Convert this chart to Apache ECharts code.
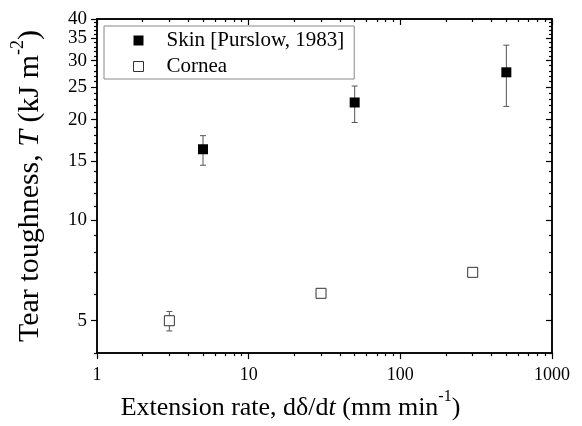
<!DOCTYPE html>
<html>
<head>
<meta charset="utf-8">
<script src="https://cdn.jsdelivr.net/npm/echarts@6/dist/echarts.min.js"></script>
<style>
html,body{margin:0;padding:0;background:#fff;}
#chart{width:582px;height:426px;}
</style>
</head>
<body>
<div id="chart"></div>
<script>
// ---- data ----
const skinRate = [5, 50, 500];
const skinToughness = [16.3, 22.5, 27.7];
const skinLow = [14.6, 19.6, 21.9];
const skinHigh = [17.9, 25.2, 33.4];

const corneaRate = [3, 30, 300];
const corneaToughness = [5.0, 6.04, 6.98];
const corneaLow = [4.66, null, null];
const corneaHigh = [5.33, null, null];

const xMajorTicks = [1, 10, 100, 1000];
const xMinorTicks = [2,3,4,5,6,7,8,9,20,30,40,50,60,70,80,90,200,300,400,500,600,700,800,900];
const yMajorTicks = [5, 10, 15, 20, 25, 30, 35, 40];
const yMinorTicks = [4,6,7,8,9,11,12,13,14,16,17,18,19,21,22,23,24,26,27,28,29,31,32,33,34,36,37,38,39];

const seriesNames = ['Skin [Purslow, 1983]', 'Cornea'];

// ---- build ----
const FONT = 'Liberation Serif';
const skinData = skinRate.map((x, i) => [x, skinToughness[i]]);
const corneaData = corneaRate.map((x, i) => [x, corneaToughness[i]]);
const errData = [];
skinRate.forEach((x, i) => { if (skinLow[i] != null) errData.push([x, skinLow[i], skinHigh[i]]); });
corneaRate.forEach((x, i) => { if (corneaLow[i] != null) errData.push([x, corneaLow[i], corneaHigh[i]]); });

function fmt(v) { return String(Math.round(v)); }

function xAx(pos, ticks, len, inside, labels) {
  return {
    type: 'log', logBase: 10, min: 1, max: 1000, position: pos,
    axisLine: { show: true, lineStyle: { color: '#000', width: 1.5 } },
    axisTick: { show: true, inside: inside, length: len, customValues: ticks, lineStyle: { color: '#000', width: 1.2 } },
    axisLabel: labels ? { show: true, customValues: ticks, formatter: fmt, fontFamily: FONT, fontSize: 18, color: '#000', margin: 13 } : { show: false },
    splitLine: { show: false }
  };
}
function yAx(pos, ticks, len, inside, labels) {
  return {
    type: 'log', logBase: 10, min: 4, max: 40, position: pos,
    axisLine: { show: true, lineStyle: { color: '#000', width: 1.5 } },
    axisTick: { show: true, inside: inside, length: len, customValues: ticks, lineStyle: { color: '#000', width: 1.2 } },
    axisLabel: labels ? { show: true, customValues: ticks, formatter: fmt, fontFamily: FONT, fontSize: 19, color: '#000', margin: 10 } : { show: false },
    splitLine: { show: false }
  };
}

function titleStyle(size, pad) {
  const lh = size + 6;
  return {
    fontFamily: FONT, color: '#000', padding: pad,
    rich: {
      a: { fontFamily: FONT, fontSize: size, color: '#000', lineHeight: lh, verticalAlign: 'bottom' },
      i: { fontFamily: FONT, fontSize: size, color: '#000', fontStyle: 'italic', lineHeight: lh, verticalAlign: 'bottom' },
      s: { fontFamily: FONT, fontSize: Math.round(size * 0.6), color: '#000', lineHeight: lh, verticalAlign: 'top' }
    }
  };
}

const xAxes = [
  xAx('bottom', xMajorTicks, 6, false, true),
  xAx('bottom', xMinorTicks, 3, false, false),
  xAx('top', xMajorTicks, 6, true, false),
  xAx('top', xMinorTicks, 3, true, false)
];
xAxes[0].name = '{a|Extension rate, dδ/d}{i|t}{a| (mm min}{s|-1}{a|)}';
xAxes[0].nameLocation = 'middle';
xAxes[0].nameGap = 31;
xAxes[0].nameTextStyle = titleStyle(26, [0, 68, 0, 0]);

const yAxes = [
  yAx('left', yMajorTicks, 6, false, true),
  yAx('left', yMinorTicks, 3, false, false),
  yAx('right', yMajorTicks, 6, true, false),
  yAx('right', yMinorTicks, 3, true, false)
];
yAxes[0].name = '{a|Tear toughness, }{i|T}{a| (kJ m}{s|-2}{a|)}';
yAxes[0].nameLocation = 'middle';
yAxes[0].nameRotate = 90;
yAxes[0].nameGap = 52;
yAxes[0].nameTextStyle = titleStyle(30, [0, 0, 0, 0]);

const option = {
  animation: false,
  backgroundColor: '#fff',
  grid: { left: 97, right: 30, top: 19, bottom: 72, containLabel: false },
  xAxis: xAxes,
  yAxis: yAxes,
  legend: {
    orient: 'vertical', left: 104, top: 26,
    backgroundColor: '#fff',
    borderColor: '#888', borderWidth: 1,
    padding: [4, 10, 2, 29],
    itemGap: 5,
    itemWidth: 10, itemHeight: 10,
    textStyle: { fontFamily: FONT, fontSize: 21, color: '#000', padding: [0, 0, 0, 18] },
    data: [
      { name: seriesNames[0], icon: 'rect', itemStyle: { color: '#000', borderColor: '#000', borderWidth: 0, opacity: 1 } },
      { name: seriesNames[1], icon: 'rect', itemStyle: { color: '#fff', borderColor: '#333', borderWidth: 1, opacity: 1 } }
    ]
  },
  series: [
    {
      type: 'custom', name: 'err', xAxisIndex: 0, yAxisIndex: 0, z: 1,
      data: errData,
      encode: { x: 0, y: [1, 2] },
      renderItem: function (params, api) {
        const x = api.value(0), lo = api.value(1), hi = api.value(2);
        const p1 = api.coord([x, hi]), p2 = api.coord([x, lo]);
        const hw = 3;
        const st = { stroke: '#555', lineWidth: 1 };
        return {
          type: 'group', children: [
            { type: 'line', shape: { x1: p1[0], y1: p1[1], x2: p2[0], y2: p2[1] }, style: st },
            { type: 'line', shape: { x1: p1[0] - hw, y1: p1[1], x2: p1[0] + hw, y2: p1[1] }, style: st },
            { type: 'line', shape: { x1: p2[0] - hw, y1: p2[1], x2: p2[0] + hw, y2: p2[1] }, style: st }
          ]
        };
      }
    },
    {
      type: 'scatter', name: seriesNames[0], xAxisIndex: 0, yAxisIndex: 0, z: 3,
      symbol: 'rect', symbolSize: 10,
      itemStyle: { color: '#000', opacity: 1 },
      data: skinData
    },
    {
      type: 'scatter', name: seriesNames[1], xAxisIndex: 0, yAxisIndex: 0, z: 3,
      symbol: 'rect', symbolSize: 10,
      itemStyle: { color: '#fff', borderColor: '#333', borderWidth: 1, opacity: 1 },
      data: corneaData
    }
  ]
};

const chart = echarts.init(document.getElementById('chart'), null, { renderer: 'canvas' });
chart.setOption(option);
</script>
</body>
</html>
